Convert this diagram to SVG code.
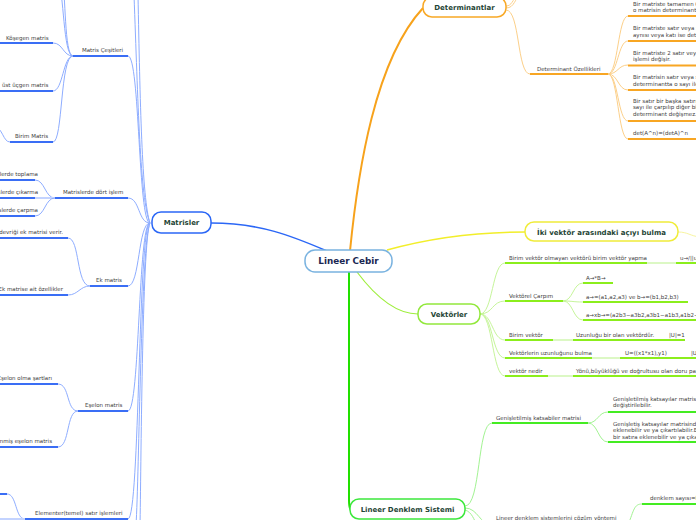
<svg xmlns="http://www.w3.org/2000/svg" width="696" height="520" viewBox="0 0 696 520">
<style>
text{font-family:"DejaVu Sans","Liberation Sans",sans-serif;}
.t{font-size:5.5px;fill:#3d3d3d;}
.n{font-size:7px;font-weight:bold;fill:#1f4536;}
.c{fill:none;stroke-linecap:round;}
.bu{stroke:#3a6ef5;stroke-width:2;fill:none;}
.bc{stroke:#8eadff;stroke-width:1;fill:none;}
.ou{stroke:#f8a623;stroke-width:2;fill:none;}
.oc{stroke:#fcd08a;stroke-width:1;fill:none;}
.gu{stroke:#8bee1c;stroke-width:2;fill:none;}
.gc{stroke:#c6f59a;stroke-width:1;fill:none;}
.lu{stroke:#44ec22;stroke-width:2;fill:none;}
.lc{stroke:#a2f392;stroke-width:1;fill:none;}
.pale-b{stroke:#c3d3ff;stroke-width:2;fill:none;}
.pale-g{stroke:#dcf8c4;stroke-width:2;fill:none;}
</style>
<rect width="696" height="520" fill="#ffffff"/>

<g id="connectors">
  <!-- root level -->
  <path d="M211,223 C260,223 292,236 327,251" stroke="#2b67f6" stroke-width="1.5" fill="none"/>
  <path d="M350,251 C358,170 375,60 423,8" stroke="#f7a21b" stroke-width="2" fill="none"/>
  <path d="M387,250 C430,238 480,232 525,232" stroke="#f2ee2a" stroke-width="1.5" fill="none"/>
  <path d="M357,272 C375,296 395,314 418,314" stroke="#9eee3c" stroke-width="1.2" fill="none"/>
  <path d="M349,272 L349,500 Q349,510 352,511" stroke="#22e000" stroke-width="2" fill="none"/>

  <!-- Matrisler children -->
  <path class="bc" d="M150,223 C140,200 138,100 134,-5"/>
  <path class="bc" d="M150,223 C142,200 140,100 138,-5"/>
  <path class="bc" d="M128,56 C140,56 138,223 150,223"/>
  <path class="bc" d="M128,198 C140,198 138,223 150,223"/>
  <path class="bc" d="M128,286 C140,286 138,223 150,223"/>
  <path class="bc" d="M128,411 C140,411 138,223 150,223"/>
  <path class="bc" d="M128,519 C140,519 138,223 150,223"/>
  <path class="bc" d="M150,223 C141,240 139,480 136,525"/>
  <path class="bc" d="M150,223 C142,240 141,480 140,525"/>

  <!-- Matris Çeşitleri children -->
  <path class="bc" d="M73,56 C63,56 64,-10 58,-20"/>
  <path class="bc" d="M73,56 C64,56 66,-10 62,-20"/>
  <path class="bc" d="M53,43 C63,43 63,56 73,56"/>
  <path class="bc" d="M53,91 C63,91 63,56 73,56"/>
  <path class="bc" d="M53,142 C63,142 60,56 73,56"/>
  <path class="bc" d="M10,142 C3,142 3,128 -6,126"/>

  <!-- Matrislerde dört işlem children -->
  <path class="bc" d="M35,180 C45,180 45,198 55,198"/>
  <path class="pale-b" d="M35,198 L55,198"/>
  <path class="bc" d="M35,216 C45,216 45,198 55,198"/>

  <!-- Ek matris children -->
  <path class="bc" d="M68,238 C80,238 76,286 90,286"/>
  <path class="bc" d="M68,295 C78,295 80,286 90,286"/>

  <!-- Eşelon children -->
  <path class="bc" d="M58,384 C70,384 66,411 78,411"/>
  <path class="bc" d="M58,447 C70,447 66,411 78,411"/>

  <!-- Elementer children -->
  <path class="bc" d="M7,494 C17,494 15,519 25,519"/>
  <path class="pale-b" d="M0,519 L25,519"/>

  <!-- Determinantlar children -->
  <path class="oc" d="M506,6 C512,6 512,0 518,-5"/>
  <path class="oc" d="M506,8 C515,8 514,-2 522,-6"/>
  <path class="oc" d="M506,10 C520,10 517,74 530,74"/>
  <path class="oc" d="M608,74 C618,74 618,16 628,16"/>
  <path class="oc" d="M608,74 C618,74 618,41 628,41"/>
  <path class="oc" d="M608,74 C618,74 618,65 628,65"/>
  <path class="oc" d="M608,74 C618,74 618,90 628,90"/>
  <path class="oc" d="M608,74 C618,74 618,121 628,121"/>
  <path class="oc" d="M608,74 C618,74 618,139 628,139"/>

  <!-- İki vektör -->
  <path d="M678,232 C688,232 690,236 700,237" stroke="#f8f5a0" stroke-width="1" fill="none"/>

  <!-- Vektörler children -->
  <path class="gc" d="M480,314 C493,314 492,263 505,263"/>
  <path class="gc" d="M480,314 C493,314 492,301 505,301"/>
  <path class="gc" d="M480,314 C493,314 492,340 505,340"/>
  <path class="gc" d="M480,314 C493,314 492,358 505,358"/>
  <path class="gc" d="M480,314 C493,314 492,376 505,376"/>
  <path class="pale-g" d="M647,263 L676,263"/>
  <path class="gc" d="M563,301 C573,301 573,283 583,283"/>
  <path class="gc" d="M563,301 C573,301 573,302 583,302"/>
  <path class="gc" d="M563,301 C573,301 573,320 583,320"/>
  <path class="pale-g" d="M553,340 L573,340"/>
  <path class="pale-g" d="M592,358 L620,358"/>
  <path class="pale-g" d="M548,376 L573,376"/>

  <!-- Lineer Denklem Sistemi children -->
  <path class="lc" d="M465,506 C481,506 477,423 492,423"/>
  <path class="lc" d="M465,508 C478,508 480,525 492,525"/>
  <path class="lc" d="M465,510 C472,512 474,520 477,525"/>
  <path class="lc" d="M588,423 C598,423 598,412 608,412"/>
  <path class="lc" d="M588,423 C598,423 598,442 608,442"/>
  <path class="lc" d="M628,525 C634,510 634,504 642,504"/>
</g>

<g id="lineer-cebir">
  <rect x="305" y="250" width="87" height="22" rx="10" fill="#ffffff" stroke="#7ab3e0" stroke-width="1.5"/>
  <text x="348.5" y="264.2" text-anchor="middle" style="font-size:8.8px;font-weight:bold;fill:#1a2752">Lineer Cebir</text>
</g>

<g id="matrisler">
  <rect x="152" y="212" width="59" height="21" rx="9" fill="#ffffff" stroke="#2b67f6" stroke-width="1.5"/>
  <text class="n" x="181.5" y="225" text-anchor="middle">Matrisler</text>
</g>
<g id="matris-cesitleri">
  <line class="bu" x1="73" y1="56" x2="128" y2="56"/>
  <text class="t" x="82" y="52">Matris Çeşitleri</text>
</g>
<g id="kosegen">
  <line class="bu" x1="0" y1="43" x2="53" y2="43"/>
  <text class="t" x="6" y="39.5">Köşegen matris</text>
</g>
<g id="ust-ucgen">
  <line class="bu" x1="0" y1="91" x2="53" y2="91"/>
  <text class="t" x="2" y="87">üst üçgen matris</text>
</g>
<g id="birim-matris">
  <line class="bu" x1="10" y1="142" x2="53" y2="142"/>
  <text class="t" x="15" y="138">Birim Matris</text>
</g>
<g id="dort-islem">
  <line class="bu" x1="55" y1="198" x2="128" y2="198"/>
  <text class="t" x="63" y="194">Matrislerde dört işlem</text>
</g>
<g id="toplama">
  <line class="bu" x1="0" y1="180" x2="35" y2="180"/>
  <text class="t" x="38" y="176" text-anchor="end">Matrislerde toplama</text>
</g>
<g id="cikarma">
  <line class="bu" x1="0" y1="198" x2="35" y2="198"/>
  <text class="t" x="38" y="194" text-anchor="end">Matrislerde çıkarma</text>
</g>
<g id="carpma">
  <line class="bu" x1="0" y1="216" x2="35" y2="216"/>
  <text class="t" x="38" y="212" text-anchor="end">Matrislerde çarpma</text>
</g>
<g id="ek-matris">
  <line class="bu" x1="90" y1="286" x2="128" y2="286"/>
  <text class="t" x="96" y="282">Ek matris</text>
</g>
<g id="ek-devrik">
  <line class="bu" x1="0" y1="238" x2="68" y2="238"/>
  <text class="t" x="63" y="234" text-anchor="end">Ek matrisin devriği ek matrisi verir.</text>
</g>
<g id="ek-ozellik">
  <line class="bu" x1="0" y1="295" x2="68" y2="295"/>
  <text class="t" x="63" y="291" text-anchor="end">Ek matrise ait özellikler</text>
</g>
<g id="eselon">
  <line class="bu" x1="78" y1="411" x2="128" y2="411"/>
  <text class="t" x="85" y="407">Eşelon matris</text>
</g>
<g id="eselon-sart">
  <line class="bu" x1="0" y1="384" x2="58" y2="384"/>
  <text class="t" x="52" y="380" text-anchor="end">Eşelon olma şartları</text>
</g>
<g id="indirgenmis">
  <line class="bu" x1="0" y1="447" x2="58" y2="447"/>
  <text class="t" x="52" y="443" text-anchor="end">İndirgenmiş eşelon matris</text>
</g>
<g id="elementer">
  <line class="bu" x1="25" y1="519" x2="128" y2="519"/>
  <text class="t" x="35" y="515">Elementer(temel) satır işlemleri</text>
</g>
<g id="elementer-child">
  <line class="bu" x1="0" y1="494" x2="7" y2="494"/>
</g>

<g id="determinantlar">
  <rect x="423" y="-3" width="83" height="20" rx="9" fill="#ffffff" stroke="#f8a825" stroke-width="1.5"/>
  <text class="n" x="464.5" y="9.8" text-anchor="middle">Determinantlar</text>
</g>
<g id="det-ozellik">
  <line class="ou" x1="530" y1="74" x2="608" y2="74"/>
  <text class="t" x="537" y="70.5">Determinant Özellikleri</text>
</g>
<g id="det-1">
  <line class="ou" x1="628" y1="16" x2="700" y2="16"/>
  <text class="t" x="633" y="5.8">Bir matriste tamamen 0 olan satır veya sütun varsa</text>
  <text class="t" x="633" y="12.2">o matrisin determinantı 0'dır.</text>
</g>
<g id="det-2">
  <line class="ou" x1="628" y1="41" x2="700" y2="41"/>
  <text class="t" x="633" y="30.3">Bir matriste satır veya sütunlardan ikisi</text>
  <text class="t" x="633" y="36.7">aynısı veya katı ise determinant 0'dır.</text>
</g>
<g id="det-3">
  <line class="ou" x1="628" y1="65.5" x2="700" y2="65.5"/>
  <text class="t" x="633" y="54.7">Bir matriste 2 satır veya sütun yer değiştirirse</text>
  <text class="t" x="633" y="61">işlemi değişir.</text>
</g>
<g id="det-4">
  <line class="ou" x1="628" y1="90" x2="700" y2="90"/>
  <text class="t" x="633" y="78.7">Bir matrisin satır veya sütunu bir sayı ile çarpılırsa</text>
  <text class="t" x="633" y="86">determinantta o sayı ile çarpılır.</text>
</g>
<g id="det-5">
  <line class="ou" x1="628" y1="121" x2="700" y2="121"/>
  <text class="t" x="633" y="103">Bir satır bir başka satırın bir</text>
  <text class="t" x="633" y="109.3">sayı ile çarpılıp diğer bir satıra eklenirse</text>
  <text class="t" x="633" y="115.7">determinant değişmez.</text>
</g>
<g id="det-6">
  <line class="ou" x1="628" y1="139" x2="700" y2="139"/>
  <text class="t" x="633" y="134.7">det(A^n)=(detA)^n</text>
</g>

<g id="iki-vektor">
  <rect x="525" y="222" width="153" height="19" rx="9" fill="#ffffff" stroke="#f0ec3a" stroke-width="1.5"/>
  <text class="n" x="601.5" y="234.5" text-anchor="middle">İki vektör arasındaki açıyı bulma</text>
</g>

<g id="vektorler">
  <rect x="418" y="304" width="62" height="20" rx="9" fill="#ffffff" stroke="#92e83c" stroke-width="1.5"/>
  <text class="n" x="449" y="316.5" text-anchor="middle">Vektörler</text>
</g>
<g id="birim-yapma">
  <line class="gu" x1="505" y1="263" x2="647" y2="263"/>
  <text class="t" x="509" y="260">Birim vektör olmayan vektörü birim vektör yapma</text>
</g>
<g id="birim-yapma-formul">
  <line class="gu" x1="676" y1="263" x2="700" y2="263"/>
  <text class="t" x="680" y="260">u→/||u→||</text>
</g>
<g id="vektorel-carpim">
  <line class="gu" x1="505" y1="301" x2="563" y2="301"/>
  <text class="t" x="509" y="298">Vektörel Çarpım</text>
</g>
<g id="axb">
  <line class="gu" x1="583" y1="283" x2="613" y2="283"/>
  <text class="t" x="586" y="280">A→*B→</text>
</g>
<g id="ab-tanim">
  <line class="gu" x1="583" y1="302" x2="688" y2="302"/>
  <text class="t" x="586" y="298.5">a→=(a1,a2,a3) ve b→=(b1,b2,b3)</text>
</g>
<g id="ab-carpim">
  <line class="gu" x1="583" y1="320" x2="700" y2="320"/>
  <text class="t" x="586" y="316.5">a→xb→=(a2b3−a3b2,a3b1−a1b3,a1b2−a2b1)</text>
</g>
<g id="birim-vektor">
  <line class="gu" x1="505" y1="340" x2="553" y2="340"/>
  <text class="t" x="509" y="337">Birim vektör</text>
</g>
<g id="birim-tanim">
  <line class="gu" x1="573" y1="340" x2="685" y2="340"/>
  <text class="t" x="576" y="337">Uzunluğu bir olan vektördür.</text>
  <text class="t" x="669" y="337">|U|=1</text>
</g>
<g id="uzunluk">
  <line class="gu" x1="505" y1="358" x2="592" y2="358"/>
  <text class="t" x="509" y="355">Vektörlerin uzunluğunu bulma</text>
</g>
<g id="uzunluk-formul">
  <line class="gu" x1="620" y1="358" x2="700" y2="358"/>
  <text class="t" x="625" y="355">U=((x1*x1),y1)</text>
  <text class="t" x="691" y="355">|U|=√(x1*x1+y1*y1)</text>
</g>
<g id="vektor-nedir">
  <line class="gu" x1="505" y1="376" x2="548" y2="376"/>
  <text class="t" x="509" y="373">vektör nedir</text>
</g>
<g id="vektor-tanim">
  <line class="gu" x1="573" y1="376" x2="700" y2="376"/>
  <text class="t" x="576" y="373">Yönü,büyüklüğü ve doğrultusu olan doru parçasıdır.</text>
</g>

<g id="lineer-denklem">
  <rect x="350" y="499" width="115" height="20" rx="9" fill="#ffffff" stroke="#3ce83c" stroke-width="1.5"/>
  <text class="n" x="407.5" y="511.8" text-anchor="middle">Lineer Denklem Sistemi</text>
</g>
<g id="genisletilmis">
  <line class="lu" x1="492" y1="423" x2="588" y2="423"/>
  <text class="t" x="496" y="420">Genişletilmiş katsabiler matrisi</text>
</g>
<g id="gen-1">
  <line class="lu" x1="608" y1="412" x2="700" y2="412"/>
  <text class="t" x="613" y="401">Genişletilmiş katsayılar matrisinde satırlar yer</text>
  <text class="t" x="613" y="407.3">değiştirilebilir.</text>
</g>
<g id="gen-2">
  <line class="lu" x1="608" y1="442" x2="700" y2="442"/>
  <text class="t" x="613" y="425.5">Genişletiş katsayılar matrisinde bir satır bir sayıyla</text>
  <text class="t" x="613" y="432">eklenebilir ve ya çıkartılabilir.Bir satır bir sayıyla çarpılıp</text>
  <text class="t" x="613" y="438.5">bir satıra eklenebilir ve ya çıkartılabilir.</text>
</g>
<g id="cozum">
  <text class="t" x="496" y="520">Lineer denklem sistemlerini çözüm yöntemi</text>
</g>
<g id="denklem-sayisi">
  <line class="lu" x1="642" y1="504" x2="700" y2="504"/>
  <text class="t" x="650" y="500">denklem sayısı=bilinmeyen sayısı</text>
</g>
</svg>
